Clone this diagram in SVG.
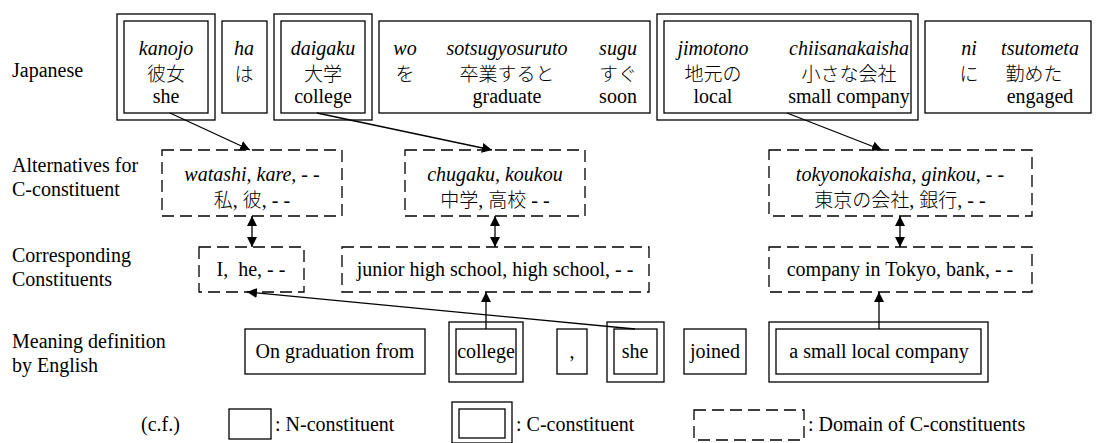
<svg xmlns="http://www.w3.org/2000/svg" width="1097" height="443" viewBox="0 0 1097 443" font-family="Liberation Serif, serif" font-size="20">
<style>
.m{text-anchor:middle}
.i{font-style:italic}
.j{font-family:'Noto Sans CJK JP',sans-serif;font-size:19px;font-weight:300}
.b{fill:#fff;stroke:#000;stroke-width:1.3}
.d{fill:#fff;stroke:#000;stroke-width:1.3;stroke-dasharray:12,6}
.c{fill:none;stroke:#000;stroke-width:1.3}
</style>
<defs>
<marker id="ah" viewBox="0 0 10 10" refX="10" refY="5" markerWidth="10" markerHeight="10" markerUnits="userSpaceOnUse" orient="auto-start-reverse">
<path d="M0,0 L10,5 L0,10 z" fill="#000"/>
</marker>
</defs>
<g id="labels">
<text x="12" y="77">Japanese</text>
<text x="12" y="172">Alternatives for</text>
<text x="12" y="196">C-constituent</text>
<text x="12" y="262">Corresponding</text>
<text x="12" y="286">Constituents</text>
<text x="12" y="348">Meaning definition</text>
<text x="12" y="372">by English</text>
</g>
<g id="n-kanojo">
<rect class="b" x="117" y="14" width="98" height="106"/>
<rect class="b" x="124" y="21" width="84" height="92"/>
<text class="m i" x="166" y="55">kanojo</text>
<text class="m j" x="166" y="81">彼女</text>
<text class="m" x="166" y="103">she</text>
</g>
<g id="n-ha">
<rect class="b" x="222" y="21" width="45" height="92"/>
<text class="m i" x="244" y="55">ha</text>
<text class="m j" x="244" y="81">は</text>
</g>
<g id="n-daigaku">
<rect class="b" x="274" y="14" width="98" height="106"/>
<rect class="b" x="281" y="21" width="84" height="92"/>
<text class="m i" x="323" y="55">daigaku</text>
<text class="m j" x="323" y="81">大学</text>
<text class="m" x="323" y="103">college</text>
</g>
<g id="n-wo">
<rect class="b" x="379" y="21" width="271" height="92"/>
<text class="m i" x="405" y="55">wo</text>
<text class="m j" x="405" y="81">を</text>
<text class="m i" x="507" y="55">sotsugyosuruto</text>
<text class="m j" x="507" y="81">卒業すると</text>
<text class="m" x="507" y="103">graduate</text>
<text class="m i" x="618" y="55">sugu</text>
<text class="m j" x="618" y="81">すぐ</text>
<text class="m" x="618" y="103">soon</text>
</g>
<g id="n-jimotono">
<rect class="b" x="657" y="14" width="261" height="106"/>
<rect class="b" x="664" y="21" width="247" height="92"/>
<text class="m i" x="713" y="55">jimotono</text>
<text class="m j" x="713" y="81">地元の</text>
<text class="m" x="713" y="103">local</text>
<text class="m i" x="849" y="55">chiisanakaisha</text>
<text class="m j" x="849" y="81">小さな会社</text>
<text class="m" x="849" y="103">small company</text>
</g>
<g id="n-ni">
<rect class="b" x="925" y="21" width="166" height="92"/>
<text class="m i" x="969" y="55">ni</text>
<text class="m j" x="969" y="81">に</text>
<text class="m i" x="1040" y="55">tsutometa</text>
<text class="m j" x="1034" y="81">勤めた</text>
<text class="m" x="1040" y="103">engaged</text>
</g>
<g id="n-alt1">
<rect class="d" x="162" y="150" width="180" height="66"/>
<text class="m i" x="252" y="181">watashi, kare, - -</text>
<text class="m" x="252" y="207"><tspan class="j">私</tspan>, <tspan class="j">彼</tspan>, - -</text>
</g>
<g id="n-alt2">
<rect class="d" x="405" y="150" width="180" height="66"/>
<text class="m i" x="495" y="181">chugaku, koukou</text>
<text class="m" x="495" y="207"><tspan class="j">中学</tspan>, <tspan class="j">高校</tspan> - -</text>
</g>
<g id="n-alt3">
<rect class="d" x="769" y="150" width="263" height="66"/>
<text class="m i" x="900" y="181">tokyonokaisha, ginkou, - -</text>
<text class="m" x="900" y="207"><tspan class="j">東京の会社</tspan>, <tspan class="j">銀行</tspan>, - -</text>
</g>
<g id="n-corr1">
<rect class="d" x="199" y="247" width="105" height="45"/>
<text class="m" x="251" y="276" xml:space="preserve">I,  he, - -</text>
</g>
<g id="n-corr2">
<rect class="d" x="342" y="247" width="307" height="45"/>
<text class="m" x="495" y="276">junior high school, high school, - -</text>
</g>
<g id="n-corr3">
<rect class="d" x="769" y="247" width="263" height="45"/>
<text class="m" x="900" y="276">company in Tokyo, bank, - -</text>
</g>
<g id="n-ongrad">
<rect class="b" x="245" y="329" width="180" height="45"/>
<text class="m" x="335" y="358">On graduation from</text>
</g>
<g id="n-college">
<rect class="b" x="449" y="322" width="74" height="60"/>
<rect class="b" x="456" y="329" width="60" height="45"/>
<text class="m" x="486" y="358">college</text>
</g>
<g id="n-comma">
<rect class="b" x="557" y="329" width="30" height="45"/>
<text class="m" x="572" y="358">,</text>
</g>
<g id="n-she">
<rect class="b" x="607" y="322" width="57" height="60"/>
<rect class="b" x="614" y="329" width="43" height="45"/>
<text class="m" x="635" y="358">she</text>
</g>
<g id="n-joined">
<rect class="b" x="684" y="329" width="62" height="45"/>
<text class="m" x="715" y="358">joined</text>
</g>
<g id="n-company">
<rect class="b" x="769" y="322" width="219" height="60"/>
<rect class="b" x="776" y="329" width="205" height="45"/>
<text class="m" x="879" y="358">a small local company</text>
</g>
<g id="connectors">
<line class="c" x1="170" y1="113" x2="250" y2="150" marker-end="url(#ah)"/>
<line class="c" x1="317" y1="113" x2="492" y2="150" marker-end="url(#ah)"/>
<line class="c" x1="787" y1="113" x2="882" y2="150" marker-end="url(#ah)"/>
<line class="c" x1="252" y1="216" x2="252" y2="247" marker-start="url(#ah)" marker-end="url(#ah)"/>
<line class="c" x1="495" y1="216" x2="495" y2="247" marker-start="url(#ah)" marker-end="url(#ah)"/>
<line class="c" x1="900" y1="216" x2="900" y2="247" marker-start="url(#ah)" marker-end="url(#ah)"/>
<line class="c" x1="486" y1="329" x2="486" y2="292" marker-end="url(#ah)"/>
<line class="c" x1="879" y1="329" x2="879" y2="292" marker-end="url(#ah)"/>
<line class="c" x1="635" y1="329" x2="247" y2="292" marker-end="url(#ah)"/>
</g>
<g id="legend">
<text x="141" y="431">(c.f.)</text>
<rect class="b" x="229" y="409" width="42" height="30"/>
<text x="275" y="431">: N-constituent</text>
<rect class="b" x="452" y="402" width="60" height="41"/>
<rect class="b" x="459" y="409" width="46" height="29"/>
<text x="516" y="431">: C-constituent</text>
<rect class="d" x="694" y="410" width="110" height="30"/>
<text x="808" y="431">: Domain of C-constituents</text>
</g>
</svg>
